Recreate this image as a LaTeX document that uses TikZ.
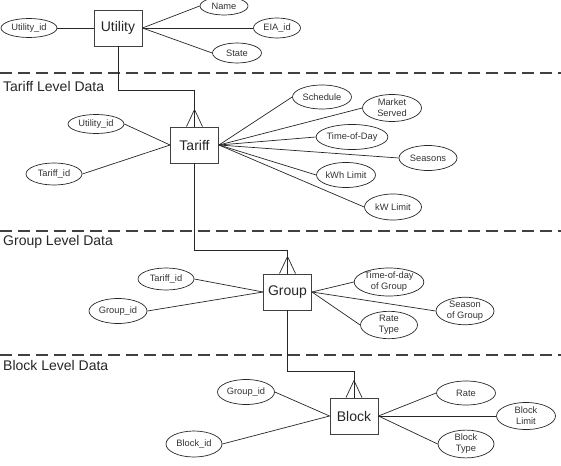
\documentclass[tikz,border=0pt]{standalone}
\usepackage{fontspec}
\setmainfont{Liberation Sans}
\usetikzlibrary{shapes.geometric,calc}
\begin{document}
\begin{tikzpicture}[x=1pt,y=-1pt,
  ent/.style={draw=black!75, line width=0.9pt, minimum width=48pt, minimum height=36pt, inner sep=0pt, font=\fontsize{14}{16}\selectfont, text=black!85},
  attr/.style={draw=black!85, line width=0.7pt, ellipse, inner sep=0pt, minimum width=57pt, minimum height=23pt, font=\fontsize{9.3}{11}\selectfont, align=center, text=black!80},
  link/.style={draw=black!85, line width=0.7pt},
  sep/.style={draw=black!75, line width=1.6pt, dash pattern=on 12pt off 6pt},
  lvl/.style={anchor=west, font=\fontsize{14}{16}\selectfont, inner sep=0pt, text=black!85}]
\useasboundingbox (0,0) rectangle (561,465);

% separators
\draw[sep] (0,73) -- (561,73);
\draw[sep] (0,231) -- (561,231);
\draw[sep] (0,355) -- (561,355);
\node[lvl] (l1) at (3,86) {Tariff Level Data};
\node[lvl] (l2) at (3,242) {Group Level Data};
\node[lvl] (l3) at (3,365) {Block Level Data};

% entities
\node[ent] (utility) at (118,28) {Utility};
\node[ent] (tariff) at (194.5,145) {Tariff};
\node[ent] (group) at (287.5,292) {Group};
\node[ent] (block) at (354,416) {Block};

% utility attributes
\node[attr, minimum width=56pt, minimum height=19pt] (uid) at (29,28) {Utility\_id};
\node[attr, minimum width=48pt, minimum height=18pt] (name) at (224,6) {Name};
\node[attr, minimum width=47pt, minimum height=20pt] (eia) at (277,28) {EIA\_id};
\node[attr, minimum width=49pt, minimum height=20pt] (state) at (237,53) {State};
\draw[link] (uid.east) -- (utility.west);
\draw[link] (utility.east) -- (name.west);
\draw[link] (utility.east) -- (eia.west);
\draw[link] (utility.east) -- (state.west);

% tariff attributes
\node[attr, minimum width=56pt, minimum height=19pt] (tuid) at (96,124) {Utility\_id};
\node[attr, minimum width=56pt, minimum height=22pt] (tid) at (54,174) {Tariff\_id};
\node[attr, minimum width=59pt, minimum height=24pt] (sched) at (322,97) {Schedule};
\node[attr, minimum width=59pt, minimum height=27pt] (market) at (392,108) {Market\\Served};
\node[attr, minimum width=61pt, minimum height=25pt] (tod) at (352,137) {Time-of-Day};
\node[attr, minimum width=58pt, minimum height=25pt] (seasons) at (428,158) {Seasons};
\node[attr, minimum width=59pt, minimum height=25pt] (kwh) at (346,175) {kWh Limit};
\node[attr, minimum width=57pt, minimum height=26pt] (kw) at (393,207) {kW Limit};
\draw[link] (tuid.east) -- (tariff.west);
\draw[link] (tid.east) -- (tariff.west);
\foreach \a in {sched,market,tod,seasons,kwh,kw}
  \draw[link] (tariff.east) -- (\a.west);

% group attributes
\node[attr, minimum width=56pt, minimum height=22pt] (gtid) at (166,279) {Tariff\_id};
\node[attr, minimum width=58pt, minimum height=25pt] (gid) at (118,311) {Group\_id};
\node[attr, minimum width=56pt, minimum height=28pt] (gtod) at (389,282) {Time-of-day\\of Group};
\node[attr, minimum width=58pt, minimum height=27pt] (gseason) at (465,311) {Season\\of Group};
\node[attr, minimum width=57pt, minimum height=26pt] (rtype) at (389,325) {Rate\\Type};
\draw[link] (gtid.east) -- (group.west);
\draw[link] (gid.east) -- (group.west);
\draw[link] (group.east) -- (gtod.west);
\draw[link] (group.east) -- (gseason.west);
\draw[link] (group.east) -- (rtype.west);

% block attributes
\node[attr, minimum width=57pt, minimum height=25pt] (bgid) at (246,392) {Group\_id};
\node[attr, minimum width=56pt, minimum height=26pt] (bid) at (194,444) {Block\_id};
\node[attr, minimum width=59pt, minimum height=24pt] (rate) at (466,393) {Rate};
\node[attr, minimum width=59pt, minimum height=27pt] (blimit) at (526,416) {Block\\Limit};
\node[attr, minimum width=56pt, minimum height=26pt] (btype) at (466,444) {Block\\Type};
\draw[link] (bgid.east) -- (block.west);
\draw[link] (bid.east) -- (block.west);
\draw[link] (block.east) -- (rate.west);
\draw[link] (block.east) -- (blimit.west);
\draw[link] (block.east) -- (btype.west);

% relationship connectors with crow's feet
\coordinate (b1) at (0,90);
\coordinate (b2) at (0,250);
\coordinate (b3) at (0,371);
\draw[link] (utility.south) |- (b1 -| tariff.north) -- (tariff.north);
\draw[link] (tariff.south) |- (b2 -| group.north) -- (group.north);
\draw[link] (group.south) |- (b3 -| block.north) -- (block.north);
\foreach \e in {tariff,group,block}{
  \coordinate (apex\e) at ($(\e.north)+(0,-17)$);
  \draw[link] ($(\e.north)+(-8,0)$) -- (apex\e) -- ($(\e.north)+(8,0)$);
}
\end{tikzpicture}
\end{document}
